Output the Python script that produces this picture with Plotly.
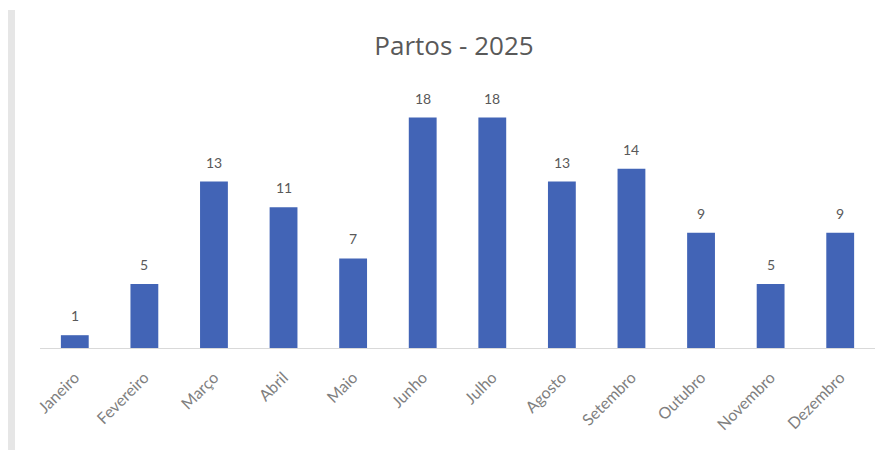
import plotly.graph_objects as go

months = ["Janeiro", "Fevereiro", "Março", "Abril", "Maio", "Junho",
          "Julho", "Agosto", "Setembro", "Outubro", "Novembro", "Dezembro"]
partos = [1, 5, 13, 11, 7, 18, 18, 13, 14, 9, 5, 9]
title_text = "Partos - 2025"

fig = go.Figure()
fig.add_trace(go.Bar(
    x=months, y=partos,
    marker=dict(color="#4264B6", line=dict(width=0)),
    cliponaxis=False,
))
for m, v in zip(months, partos):
    fig.add_annotation(x=m, y=v, text=str(v), showarrow=False,
                       yanchor="bottom", yshift=9,
                       font=dict(family="Lato", size=14, color="#595959"))

fig.update_layout(
    width=892, height=450,
    margin=dict(l=32, r=25, t=84, b=110),
    paper_bgcolor="white", plot_bgcolor="white",
    bargap=0.6,
    showlegend=False,
    title=dict(text=title_text, x=0.5, xanchor="center", y=0.915, yanchor="middle",
               font=dict(family="Open Sans", size=26, color="#595959")),
    xaxis=dict(tickangle=-45, showline=True, linecolor="#d9d9d9", linewidth=1,
               ticks="", showgrid=False, ticklabelstandoff=13,
               tickfont=dict(family="Lato", size=16, color="#7f7f7f")),
    yaxis=dict(range=[0, 20], visible=False, showgrid=False, zeroline=False),
    shapes=[dict(type="rect", xref="paper", yref="paper",
                 x0=-0.0383, x1=-0.0299, y0=-0.43, y1=1.32,
                 fillcolor="#e6e6e6", line=dict(width=0), layer="below")],
)

fig.write_html("out.html")
